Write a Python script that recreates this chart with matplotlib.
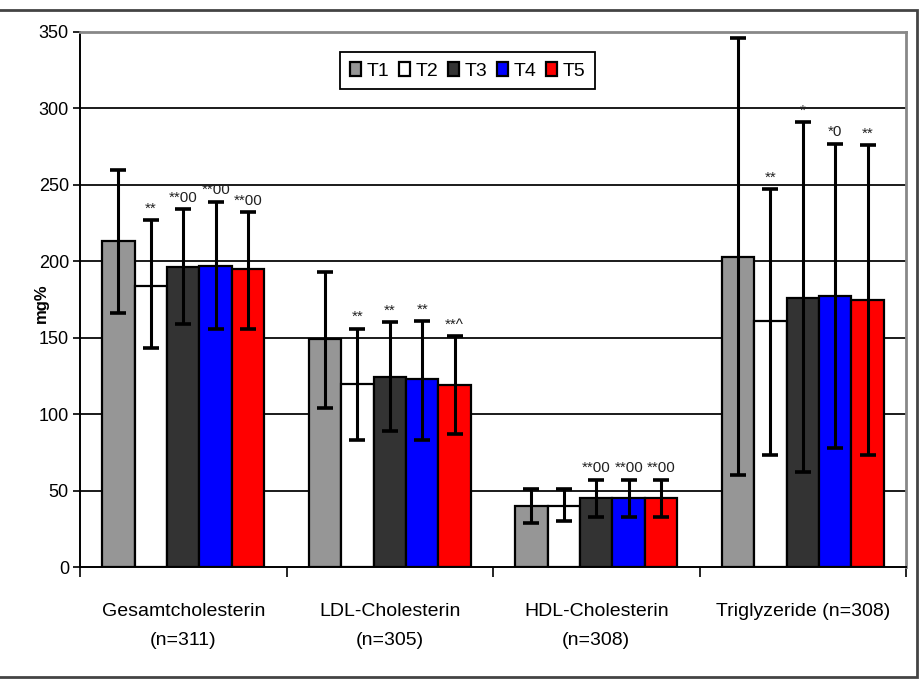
import matplotlib
matplotlib.use("Agg")
import matplotlib.pyplot as plt
import numpy as np
from matplotlib.patches import Rectangle

categories = ["Gesamtcholesterin\n(n=311)", "LDL-Cholesterin\n(n=305)",
              "HDL-Cholesterin\n(n=308)", "Triglyzeride (n=308)"]
series = ["T1", "T2", "T3", "T4", "T5"]
colors = ["#969696", "#ffffff", "#333333", "#0000ff", "#ff0000"]

means = {
    "T1": [213, 149, 40, 203],
    "T2": [184, 120, 40, 161],
    "T3": [196, 124, 45, 176],
    "T4": [197, 123, 45, 177],
    "T5": [195, 119, 45, 175],
}
err_hi = {
    "T1": [260, 193, 51, 346],
    "T2": [227, 156, 51, 247],
    "T3": [234, 160, 57, 291],
    "T4": [239, 161, 57, 277],
    "T5": [232, 151, 57, 276],
}
err_lo = {
    "T1": [166, 104, 29, 60],
    "T2": [143, 83, 30, 73],
    "T3": [159, 89, 33, 62],
    "T4": [156, 83, 33, 78],
    "T5": [156, 87, 33, 73],
}
marks = {
    "T1": ["", "", "", ""],
    "T2": ["**", "**", "", "**"],
    "T3": ["**00", "**", "**00", "*"],
    "T4": ["**00", "**", "**00", "*0"],
    "T5": ["**00", "**^", "**00", "**"],
}
yticks = [0, 50, 100, 150, 200, 250, 300, 350]

FONT = ["Liberation Sans", "DejaVu Sans"]
plt.rcParams["font.family"] = FONT

fig = plt.figure(figsize=(9.19, 6.8), dpi=100)
ax = fig.add_axes([80/919, 1-567/680, (906-80)/919, (567-32)/680])

n = len(categories)
x = np.arange(n)
w = 0.157
for i, s in enumerate(series):
    pos = x + (i - 2) * w
    m = np.array(means[s])
    hi = np.array(err_hi[s]) - m
    lo = m - np.array(err_lo[s])
    ax.bar(pos, m, width=w, color=colors[i], edgecolor="black", linewidth=1.6,
           label=s, zorder=3)
    ax.errorbar(pos, m, yerr=[lo, hi], fmt="none", ecolor="black",
                elinewidth=2.2, capsize=5.5, capthick=2.6, zorder=4)
    for j in range(n):
        if marks[s][j]:
            ax.text(pos[j], err_hi[s][j] + 3, marks[s][j], ha="center",
                    va="bottom", fontsize=11, color="#222222", zorder=5)

ax.set_xlim(-0.5, n - 0.5)
ax.set_ylim(0, 350)
ax.set_yticks(yticks)
ax.tick_params(axis="y", labelsize=13, length=5, width=1.2, direction="out", pad=3)
for t in yticks[1:-1]:
    ax.axhline(t, color="#1a1a1a", linewidth=1.4, zorder=1)

ax.set_xticks(np.arange(n + 1) - 0.5)
ax.set_xticklabels([])
ax.tick_params(axis="x", which="major", length=7, width=1.2, direction="out")
ax.set_xticks(x, minor=True)
ax.set_xticklabels(categories, minor=True, fontsize=14, linespacing=1.95)
ax.tick_params(axis="x", which="minor", length=0, pad=26)

for sp in ["left", "bottom"]:
    ax.spines[sp].set_color("black")
    ax.spines[sp].set_linewidth(1.4)
for sp in ["top", "right"]:
    ax.spines[sp].set_color("#888888")
    ax.spines[sp].set_linewidth(2)

ax.set_ylabel("mg%", fontsize=12, fontweight="bold")
ax.yaxis.set_label_coords(-0.038, 0.493)

leg = ax.legend(ncol=5, loc="upper center", bbox_to_anchor=(0.469, 0.963),
                borderaxespad=0,
                fontsize=14, frameon=True, fancybox=False, edgecolor="black",
                handlelength=0.6, handleheight=0.8, handletextpad=0.25,
                columnspacing=0.5, borderpad=0.5, framealpha=1)
leg.get_frame().set_linewidth(1.3)
leg.set_zorder(6)

fig.patches.append(Rectangle((-0.01, 3/680), 917/919 + 0.01, 667/680,
                             transform=fig.transFigure, fill=False,
                             edgecolor="#444444", linewidth=2))

fig.savefig("out.png", dpi=100)
